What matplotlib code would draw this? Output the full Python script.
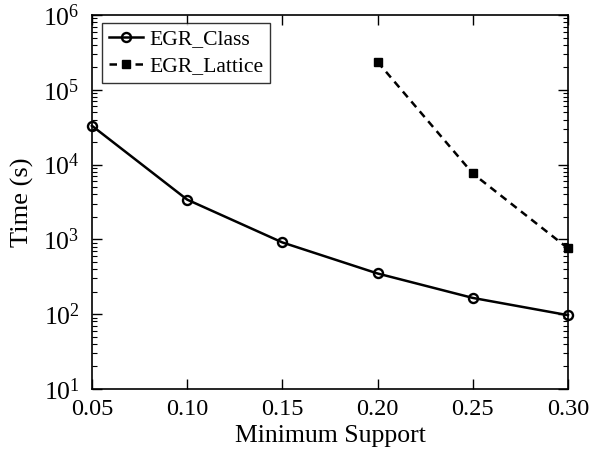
import matplotlib
matplotlib.use("Agg")
import matplotlib.pyplot as plt
from matplotlib.ticker import LogLocator

plt.rcParams['font.family'] = ['Liberation Serif', 'DejaVu Serif']
plt.rcParams['mathtext.fontset'] = 'custom'
plt.rcParams['mathtext.rm'] = 'Liberation Serif'
plt.rcParams['mathtext.it'] = 'Liberation Serif:italic'

support = [0.05, 0.10, 0.15, 0.20, 0.25, 0.30]
egr_class = [33000, 3400, 910, 350, 165, 97]
lattice_support = [0.20, 0.25, 0.30]
egr_lattice = [236000, 7600, 760]
xtick_labels = ["0.05", "0.10", "0.15", "0.20", "0.25", "0.30"]

fig = plt.figure(figsize=(5.93, 4.5), dpi=100)
ax = fig.add_axes([0.1551, 0.1356, 0.8027, 0.8311])

ax.plot(support, egr_class, color='black', lw=1.8, marker='o', ms=6.5,
        mfc='none', mew=1.7, label='EGR_Class', clip_on=False, zorder=3)
ax.plot(lattice_support, egr_lattice, color='black', lw=1.8, ls=(0, (3.0, 2.2)),
        marker='s', ms=5.5, label='EGR_Lattice', clip_on=False, zorder=3)

ax.set_yscale('log')
ax.set_xlim(0.05, 0.30)
ax.set_ylim(10, 1e6)
ax.set_xticks(support)
ax.set_xticklabels(xtick_labels)
ax.yaxis.set_major_locator(LogLocator(base=10, numticks=10))
ax.yaxis.set_minor_locator(LogLocator(base=10, subs=range(2, 10), numticks=10))

ax.tick_params(which='both', direction='in', top=True, right=True)
ax.tick_params(axis='x', labelsize=17.5, pad=7)
ax.tick_params(axis='y', labelsize=18.5, pad=9)
ax.tick_params(which='major', length=7, width=1)
ax.tick_params(which='minor', length=3.5, width=0.8)
for s in ax.spines.values():
    s.set_linewidth(1.2)

ax.set_xlabel('Minimum Support', fontsize=18.5, labelpad=4)
ax.set_ylabel('Time (s)', fontsize=19, labelpad=6)

leg = ax.legend(loc='upper left', bbox_to_anchor=(0.022, 0.979), fontsize=15.6,
                frameon=True, fancybox=False, edgecolor='black',
                handlelength=1.55, borderpad=0.3, borderaxespad=0,
                labelspacing=0.3, handletextpad=0.3)
leg.get_frame().set_linewidth(1.0)

fig.savefig('out.png', dpi=100)
